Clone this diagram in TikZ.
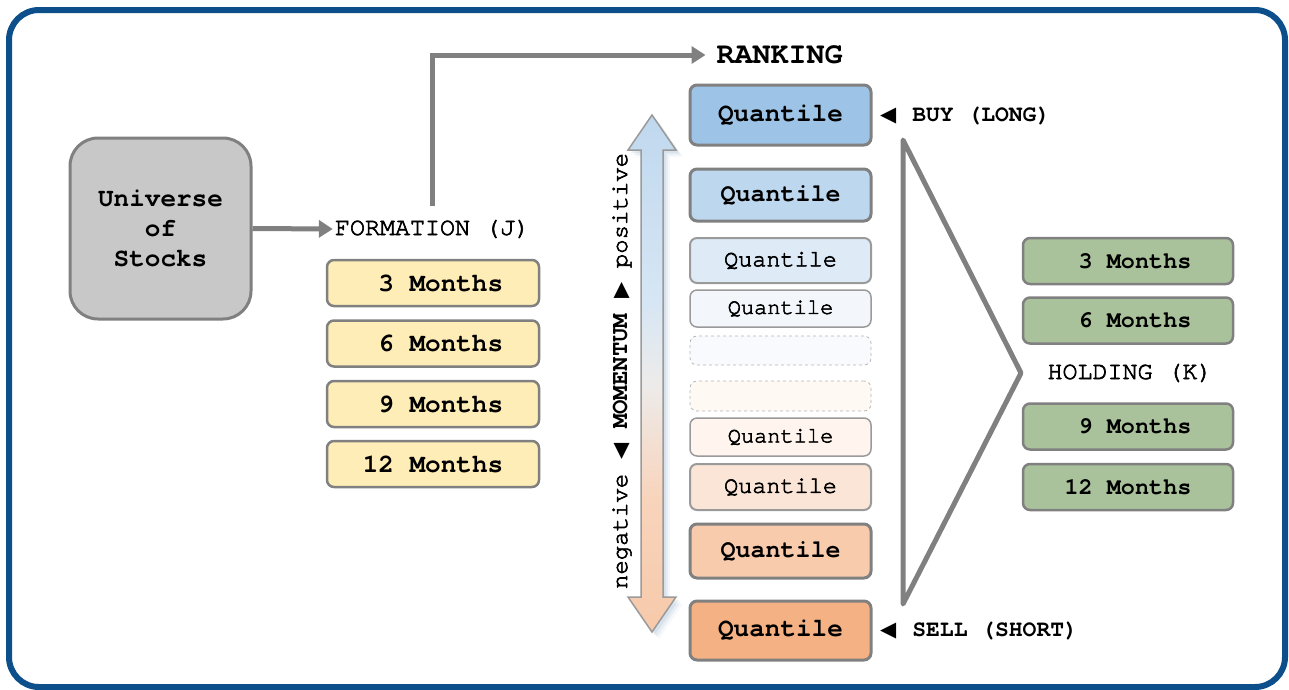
\documentclass[tikz,border=0pt]{standalone}
\usepackage{fontspec}
\setmainfont{TeX Gyre Cursor}[UprightFeatures={FakeBold=2.5}]
\newfontfamily\symfont{DejaVu Sans}
\usetikzlibrary{arrows.meta}

\definecolor{frameblue}{HTML}{0D4F8A}
\definecolor{linegray}{HTML}{808080}
\definecolor{thingray}{HTML}{9A9A9A}
\definecolor{dashgray}{HTML}{B4B4B4}
\definecolor{unifill}{HTML}{C8C8C8}
\definecolor{yellowfill}{HTML}{FFEDB7}
\definecolor{greenfill}{HTML}{A9C29B}
\definecolor{qa}{HTML}{9DC3E6}
\definecolor{qb}{HTML}{BDD7EE}
\definecolor{qc}{HTML}{DEEBF7}
\definecolor{qd}{HTML}{F3F7FB}
\definecolor{qe}{HTML}{F8FAFD}
\definecolor{qf}{HTML}{FFF9F4}
\definecolor{qg}{HTML}{FFF5EE}
\definecolor{qh}{HTML}{FBE5D6}
\definecolor{qi}{HTML}{F8CBAD}
\definecolor{qj}{HTML}{F4B183}
\definecolor{scalemid}{HTML}{EDEBEA}
\definecolor{scaleblue}{HTML}{D6E6F4}
\definecolor{scaleblue2}{HTML}{B3D0EB}
\definecolor{scalepeach}{HTML}{F8D4BC}
\definecolor{scalepeach2}{HTML}{F5BE98}

% momentum scale: orange at the bottom, near white in the middle, blue on top
\pgfdeclareverticalshading{momentumshade}{100bp}{
  color(0bp)=(qj); color(12bp)=(scalepeach2); color(38bp)=(scalepeach);
  color(49bp)=(scalemid); color(57bp)=(scaleblue); color(85bp)=(scaleblue2);
  color(100bp)=(qa)}

\newcommand{\fs}[1]{\fontsize{#1}{#1}\selectfont}

\begin{document}
\begin{tikzpicture}[x=1pt,y=-1pt,
  every node/.style={inner sep=0pt},
  months/.style={draw=linegray, line width=2.5pt, rounded corners=7pt,
    minimum width=212pt, minimum height=46pt, fill=yellowfill, font=\fs{26}\bfseries},
  holdbox/.style={draw=linegray, line width=2.5pt, rounded corners=7pt,
    minimum width=210pt, minimum height=46pt, fill=greenfill, font=\fs{23.5}\bfseries},
  qbox/.style={rounded corners=7pt, minimum width=181pt},
  qstrong/.style={qbox, draw=linegray, line width=3pt, font=\fs{#1}\bfseries},
  qmid/.style={qbox, draw=thingray, line width=2pt, font=\fs{#1}},
  qweak/.style={qbox, draw=thingray, line width=1.5pt, font=\fs{#1}},
  qempty/.style={qbox, draw=dashgray, line width=0.8pt, dashed},
  flow/.style={draw=linegray, line width=5pt,
    -{Triangle[length=14pt,width=17pt]}},
  caption/.style={inner sep=2pt, font=\fs{25}}
]
\useasboundingbox (0,0) rectangle (1289,689);

% outer frame
\draw[frameblue, line width=6pt, rounded corners=30pt] (9,10) rectangle (1285,687);

% stock universe
\node[draw=linegray, line width=3pt, fill=unifill, rounded corners=28pt,
  minimum width=181pt, minimum height=181pt, align=center,
  font=\fs{26}\bfseries] (univ) at (160.5,228.5)
  {Universe\\[4pt]of\\[4pt]Stocks};

% formation period
\node[caption, outer ysep=12pt] (form) at (432.5,229) {FORMATION (J)};
\node[months] (f3)  at (433,283)   {\phantom{1}3 Months};
\node[months] (f6)  at (433,343.5) {\phantom{1}6 Months};
\node[months] (f9)  at (433,404)   {\phantom{1}9 Months};
\node[months] (f12) at (433,464)   {12 Months};

% ranking into quantiles
\node[caption, font=\fs{30}\bfseries, outer xsep=9pt] (rank) at (779.5,55) {RANKING};
\node[qstrong=26, fill=qa, minimum height=60pt] (q1)  at (780.5,115)   {Quantile};
\node[qstrong=25, fill=qb, minimum height=52pt] (q2)  at (780.5,195)   {Quantile};
\node[qmid=23.5,  fill=qc, minimum height=45pt] (q3)  at (780.5,260.5) {Quantile};
\node[qweak=22,   fill=qd, minimum height=37pt] (q4)  at (780.5,308.5) {Quantile};
\node[qempty,     fill=qe, minimum height=29pt] (q5)  at (780.5,350.5) {};
\node[qempty,     fill=qf, minimum height=30pt] (q6)  at (780.5,396)   {};
\node[qweak=22,   fill=qg, minimum height=38pt] (q7)  at (780.5,437)   {Quantile};
\node[qmid=23.5,  fill=qh, minimum height=46pt] (q8)  at (780.5,487)   {Quantile};
\node[qstrong=25, fill=qi, minimum height=54pt] (q9)  at (780.5,551)   {Quantile};
\node[qstrong=26, fill=qj, minimum height=59pt] (q10) at (780.5,630.5) {Quantile};

% momentum scale, with a soft shadow behind it
\def\scalearrow{(652,115) -- (676,150) -- (663,150) -- (663,597) -- (676,597)
  -- (652,632) -- (628,597) -- (641,597) -- (641,150) -- (628,150) -- cycle}
\foreach \d/\o in {7/0.04,5/0.06,3/0.08}
  \fill[frameblue, opacity=\o, shift={(\d,\d)}] \scalearrow;
\path[draw=thingray, line width=1.5pt, line join=miter, shading=momentumshade]
  \scalearrow;
\node[rotate=90, font=\fs{24}] (scale) at (622,371)
  {negative {\symfont\fs{21}◀} \textbf{MOMENTUM} {\symfont\fs{21}▶} positive};

% positions taken
\node[anchor=west, font=\fs{23}\bfseries] (buy) at (880,116)
  {{\symfont\fs{21}◀}\hspace{16pt}BUY (LONG)};
\node[anchor=west, font=\fs{23}\bfseries] (sell) at (880,631)
  {{\symfont\fs{21}◀}\hspace{16pt}SELL (SHORT)};

% holding period
\coordinate (ttop) at (903,140);
\coordinate (tbot) at (903,604);
\coordinate (ttip) at (1021,373);
\draw[linegray, line width=5pt, line join=round] (ttop) -- (ttip) -- (tbot) -- cycle;

\node[caption] (hold) at (1130,373) {HOLDING (K)};
\node[holdbox] (h3)  at (1128,261)   {\phantom{1}3 Months};
\node[holdbox] (h6)  at (1128,320.5) {\phantom{1}6 Months};
\node[holdbox] (h9)  at (1128,426.5) {\phantom{1}9 Months};
\node[holdbox] (h12) at (1128,487)   {12 Months};

% flow arrows
\draw[flow] (univ.east) -- (form.west);
\draw[flow] (form.north) |- (rank.west);
\end{tikzpicture}
\end{document}
